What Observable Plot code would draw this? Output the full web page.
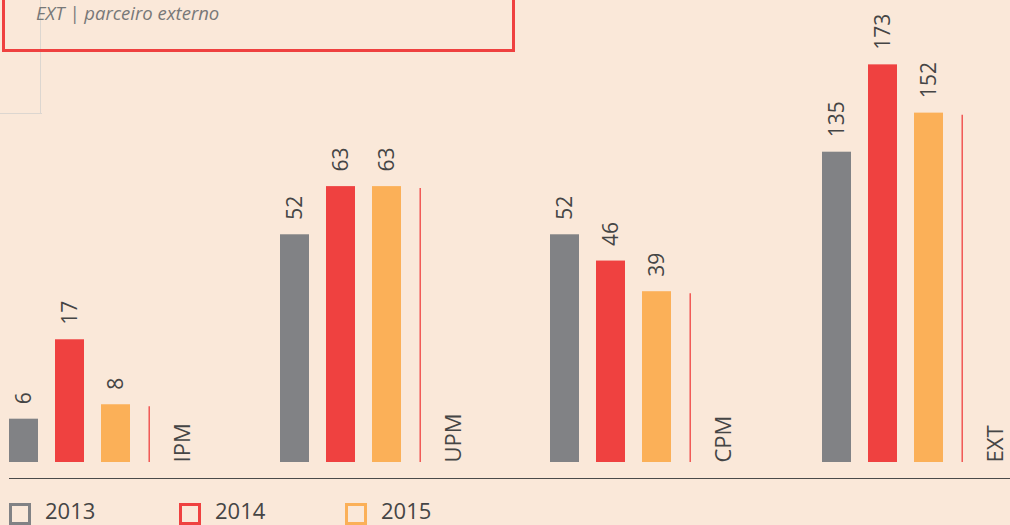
<!DOCTYPE html>
<html>
<head>
<meta charset="utf-8">
<script src="https://cdn.jsdelivr.net/npm/d3@7"></script>
<script src="https://cdn.jsdelivr.net/npm/@observablehq/plot@0.6"></script>
<style>
  html, body { margin: 0; padding: 0; background: #fae8d9; }
  #chart { position: relative; width: 1010px; height: 525px; overflow: hidden; font-family: "Open Sans", sans-serif; background: #fae8d9; }
  .panel { position: absolute; top: 0; width: 271px; height: 480px; }
  .panel svg { overflow: visible; }
  .note-box { position: absolute; left: 2px; top: -50px; width: 513px; height: 101.5px; box-sizing: border-box; border: 3px solid #ef4140; }
  .note-text { position: absolute; left: 36px; top: 4px; font-size: 18.5px; line-height: 18px; font-style: italic; color: #787878; white-space: nowrap; }
  .conn-v { position: absolute; left: 40px; top: -5px; height: 118px; width: 0; border-left: 1.5px solid #dcd6d0; }
  .conn-h { position: absolute; left: 0; top: 112.5px; width: 41.5px; height: 0; border-top: 1.5px solid #dcd6d0; }
  .baseline { position: absolute; left: 9px; top: 477.5px; width: 1001px; height: 0; border-top: 1.6px solid #4a4a4a; }
  .leg-item { position: absolute; top: 502px; height: 22px; }
  .leg-sq { position: absolute; left: 0; top: 0.5px; width: 22px; height: 22px; box-sizing: border-box; border: 3px solid; }
  .leg-tx { position: absolute; left: 36px; top: -2.4px; font-size: 22px; line-height: 20px; color: #454545; white-space: nowrap; }
</style>
</head>
<body>
<div id="chart"></div>
<script>
// ---- data ----
const categories = ["IPM", "UPM", "CPM", "EXT"];
const years = ["2013", "2014", "2015"];
const values2013 = [6, 52, 52, 135];
const values2014 = [17, 63, 46, 173];
const values2015 = [8, 63, 39, 152];
const noteText = "EXT | parceiro externo";

// ---- layout / style ----
const series = [values2013, values2014, values2015];
const yDomainMax = [64, 105.5, 105.5, 201];   // each group drawn on its own y scale
const panelLeft = [0, 271, 541, 813];
const colors = ["#818285", "#ef4140", "#fbb058"];
const textColor = "#454545";

const chart = document.getElementById("chart");

// decorations at top-left
const connV = document.createElement("div"); connV.className = "conn-v"; chart.appendChild(connV);
const connH = document.createElement("div"); connH.className = "conn-h"; chart.appendChild(connH);
const box = document.createElement("div"); box.className = "note-box"; chart.appendChild(box);
const note = document.createElement("div"); note.className = "note-text"; note.textContent = noteText; chart.appendChild(note);

categories.forEach((cat, i) => {
  const rows = years.map((yr, j) => ({category: cat, year: yr, value: series[j][i]}));
  const last = rows.filter(d => d.year === "2015");
  const svg = Plot.plot({
    width: 271,
    height: 480,
    marginTop: 0,
    marginBottom: 18,
    marginLeft: 9,
    marginRight: 141,
    style: {background: "transparent", overflow: "visible", fontFamily: "Open Sans, sans-serif"},
    x: {domain: years, paddingInner: 0.37, paddingOuter: 0, axis: null},
    y: {domain: [0, yDomainMax[i]], axis: null},
    color: {domain: years, range: colors},
    marks: [
      Plot.barY(rows, {x: "year", y: "value", fill: "year"}),
      Plot.text(rows, {x: "year", y: "value", text: d => String(d.value), rotate: -90, textAnchor: "start", dy: -15, fontSize: 21, fill: textColor}),
      Plot.ruleX(last, {x: "year", y1: 0, y2: "value", dx: 33.2, insetBottom: -2, stroke: "#ef4140", strokeWidth: 1.3}),
      Plot.text(last, {x: "year", y: 0, text: "category", rotate: -90, textAnchor: "start", dx: 67, fontSize: 22, fill: textColor})
    ]
  });
  const div = document.createElement("div");
  div.className = "panel";
  div.style.left = panelLeft[i] + "px";
  div.appendChild(svg);
  chart.appendChild(div);
});

const base = document.createElement("div"); base.className = "baseline"; chart.appendChild(base);

// legend
const legendLeft = [9, 179, 345];
years.forEach((yr, j) => {
  const item = document.createElement("div");
  item.className = "leg-item";
  item.style.left = legendLeft[j] + "px";
  const sq = document.createElement("div");
  sq.className = "leg-sq";
  sq.style.borderColor = colors[j];
  const tx = document.createElement("div");
  tx.className = "leg-tx";
  tx.textContent = yr;
  item.appendChild(sq); item.appendChild(tx);
  chart.appendChild(item);
});
</script>
</body>
</html>
